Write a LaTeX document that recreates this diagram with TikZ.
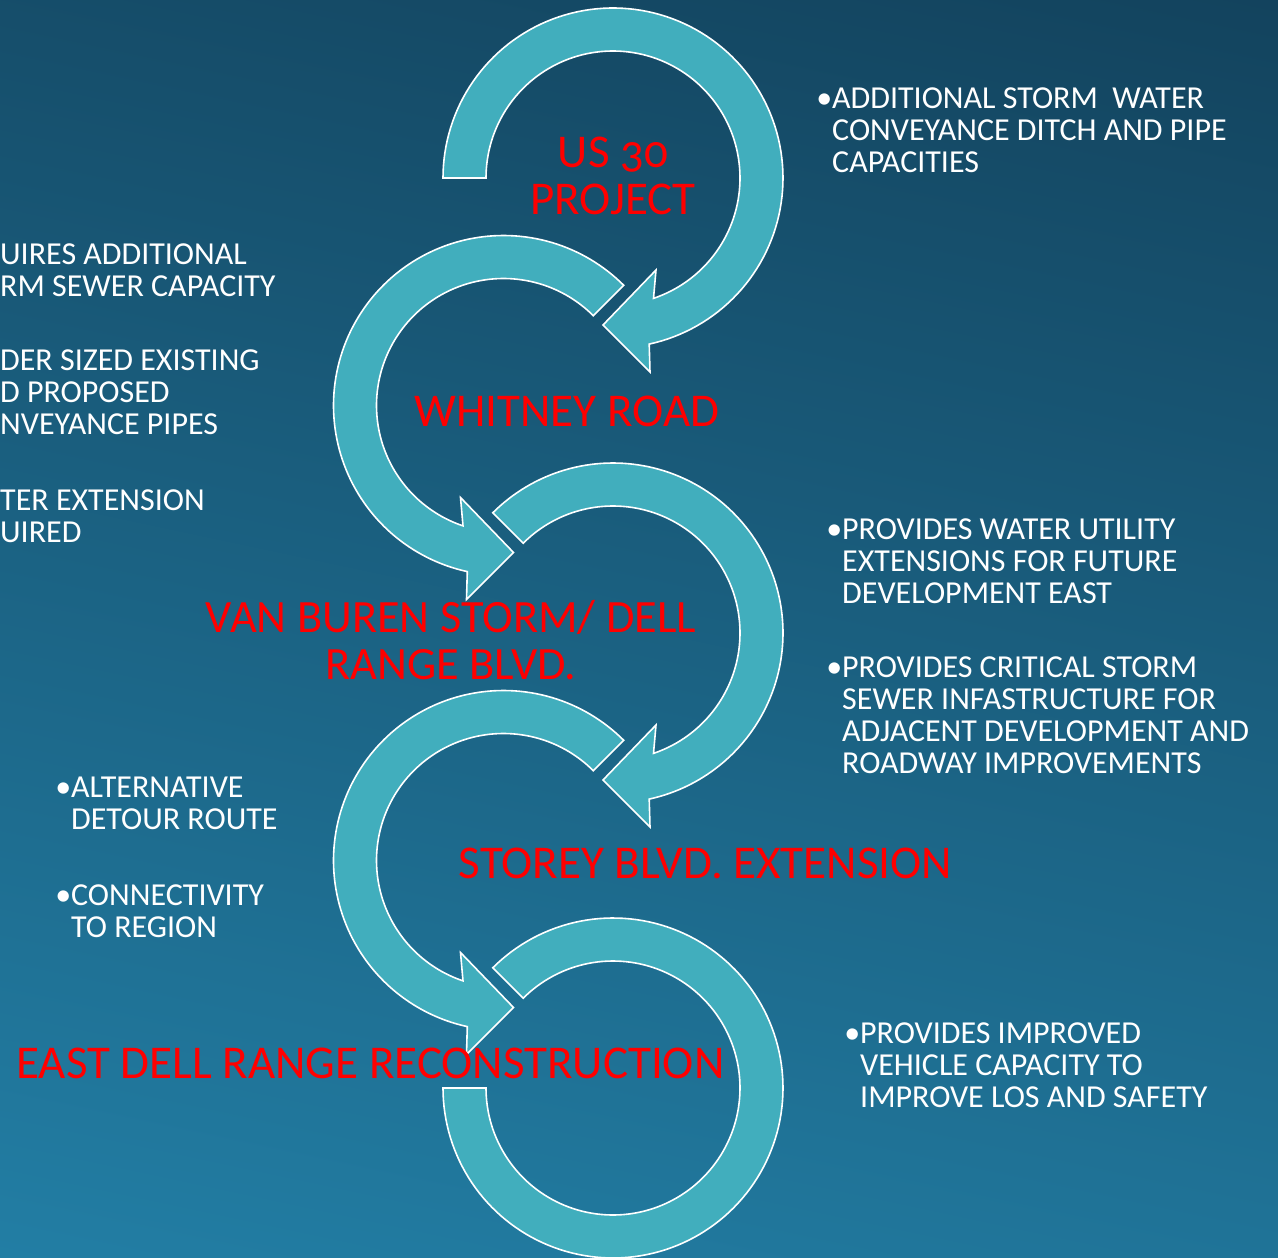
\documentclass[tikz,border=0pt]{standalone}
\usepackage{fontspec}
\setmainfont{Carlito}
\definecolor{ringteal}{HTML}{41AEBD}
\definecolor{bgtop}{HTML}{12405A}
\definecolor{bgbot}{HTML}{2381A8}
\tikzset{
  ring/.style={fill=ringteal, draw=white, line width=1.6pt, line join=miter},
  redlbl/.style={text=red, font=\fontsize{47}{47}\selectfont, align=center, inner sep=0pt, anchor=base},
  bul/.style={text=white, font=\fontsize{32}{32}\selectfont, align=left, inner sep=0pt, anchor=base west},
}
% clockwise (on screen) circular arrow: centre x, centre y, start angle
\newcommand{\cwarrow}[3]{%
  \draw[ring] plot[domain=#3:437.7,samples=120] ({#1+170*cos(\x)},{#2+170*sin(\x)})
    -- ({#1+37},{#2+194}) -- ({#1-10},{#2+147}) -- ({#1+43},{#2+92})
    -- plot[domain=#3:431.4,samples=120] ({#1+127*cos(#3+431.4-\x)},{#2+127*sin(#3+431.4-\x)})
    -- cycle;}
% counter-clockwise (on screen) circular arrow
\newcommand{\ccwarrow}[3]{%
  \draw[ring] plot[domain=-257.7:#3,samples=120] ({#1+170*cos(#3-257.7-\x)},{#2+170*sin(#3-257.7-\x)})
    -- ({#1-37},{#2+194}) -- ({#1+10},{#2+147}) -- ({#1-43},{#2+92})
    -- plot[domain=-251.4:#3,samples=120] ({#1+127*cos(\x)},{#2+127*sin(\x)})
    -- cycle;}
\begin{document}
\begin{tikzpicture}[x=1pt,y=-1pt]
\useasboundingbox (0,0) rectangle (1278,1258);
\shade[top color=bgtop, bottom color=bgbot, shading angle=-12] (-200,-200) rectangle (1478,1458);
\clip (0,0) rectangle (1278,1258);

\cwarrow{613}{178}{180}
\ccwarrow{503.5}{405.5}{-45}
\cwarrow{613}{633}{225}
\ccwarrow{503.5}{860.5}{-45}
\draw[ring] plot[domain=225:540,samples=150] ({613+170*cos(\x)},{1088+170*sin(\x)})
  -- plot[domain=225:540,samples=150] ({613+127*cos(765-\x)},{1088+127*sin(765-\x)}) -- cycle;

% multi-line nodes: base anchor is the baseline of the last line
\node[redlbl] (us30) at (613,214) {US {\addfontfeatures{Numbers=OldStyle}30}\\PROJECT};
\node[redlbl] (whitney) at (567,426) {WHITNEY ROAD};
\node[redlbl, font=\fontsize{46.3}{47}\selectfont] (vanburen) at (451,679) {VAN BUREN STORM/ DELL\\RANGE BLVD.};
\node[redlbl] (storey) at (705.5,878) {STOREY BLVD. EXTENSION};
\node[redlbl] (eastdell) at (370.5,1078) {EAST DELL RANGE RECONSTRUCTION};

\node[bul] (t1) at (832,172) {\llap{•}ADDITIONAL STORM\ \ WATER\\CONVEYANCE DITCH AND PIPE\\CAPACITIES};
\node[bul] (t2) at (842,603) {\llap{•}PROVIDES WATER UTILITY\\EXTENSIONS FOR FUTURE\\DEVELOPMENT EAST};
\node[bul] (t3) at (842,773) {\llap{•}PROVIDES CRITICAL STORM\\SEWER INFASTRUCTURE FOR\\ADJACENT DEVELOPMENT AND\\ROADWAY IMPROVEMENTS};
\node[bul] (t4) at (860,1107) {\llap{•}PROVIDES IMPROVED\\VEHICLE CAPACITY TO\\IMPROVE LOS AND SAFETY};
\node[bul] (t5) at (71,829) {\llap{•}ALTERNATIVE\\DETOUR ROUTE};
\node[bul] (t6) at (71,937) {\llap{•}CONNECTIVITY\\TO REGION};
\node[bul] (l1) at (0,296) {UIRES ADDITIONAL\\RM SEWER CAPACITY};
\node[bul] (l2) at (0,434) {DER SIZED EXISTING\\D PROPOSED\\NVEYANCE PIPES};
\node[bul] (l3) at (0,542) {TER EXTENSION\\UIRED};
\end{tikzpicture}
\end{document}
